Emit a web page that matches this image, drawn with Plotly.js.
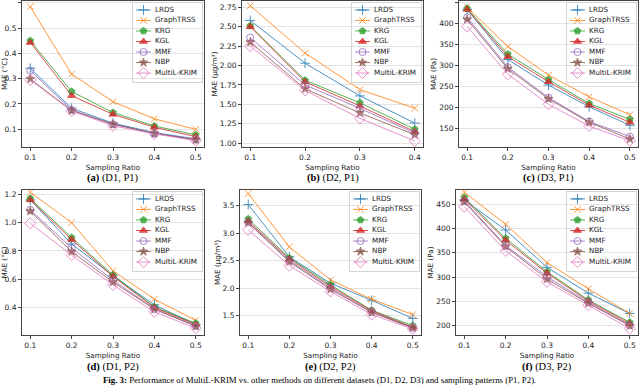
<!DOCTYPE html>
<html>
<head>
<meta charset="utf-8">
<script src="https://cdn.plot.ly/plotly-3.0.1.min.js"></script>
<style>
  html, body { margin: 0; padding: 0; background: #fff; }
  #chart { width: 640px; height: 386px; }
</style>
</head>
<body>
<div id="chart"></div>
<script>
const ratios = [0.1, 0.2, 0.3, 0.4, 0.5];
const ratiosB = [0.1, 0.2, 0.3, 0.4];
const methods = ['LRDS', 'GraphTRSS', 'KRG', 'KGL', 'MMF', 'NBP', 'MultiL-KRIM'];

// one row per method, same order as methods
const maeD1P1 = [
    [0.341, 0.183, 0.124, 0.087, 0.062],
    [0.584, 0.318, 0.209, 0.141, 0.100],
    [0.450, 0.249, 0.166, 0.113, 0.078],
    [0.443, 0.233, 0.159, 0.108, 0.071],
    [0.332, 0.176, 0.120, 0.084, 0.060],
    [0.299, 0.174, 0.120, 0.084, 0.058],
    [0.295, 0.172, 0.114, 0.082, 0.055]
];
const maeD2P1 = [
    [2.58, 2.03, 1.61, 1.26],
    [2.77, 2.16, 1.69, 1.45],
    [2.51, 1.81, 1.52, 1.18],
    [2.50, 1.79, 1.48, 1.15],
    [2.36, 1.75, 1.45, 1.13],
    [2.30, 1.70, 1.39, 1.11],
    [2.25, 1.68, 1.32, 1.03]
];
const maeD3P1 = [
    [434, 314, 253, 201, 157],
    [439, 345, 277, 225, 182],
    [436, 327, 266, 209, 171],
    [434, 321, 261, 205, 164],
    [415, 296, 223, 166, 130],
    [410, 292, 220, 164, 124],
    [393, 279, 207, 155, 120]
];
const maeD1P2 = [
    [1.16, 0.85, 0.625, 0.42, 0.28],
    [1.214, 1.00, 0.66, 0.46, 0.31],
    [1.17, 0.894, 0.63, 0.405, 0.29],
    [1.16, 0.88, 0.62, 0.40, 0.28],
    [1.09, 0.82, 0.595, 0.39, 0.27],
    [1.08, 0.795, 0.58, 0.39, 0.27],
    [0.995, 0.77, 0.56, 0.37, 0.255]
];
const maeD2P2 = [
    [3.52, 2.57, 2.09, 1.78, 1.45],
    [3.72, 2.75, 2.15, 1.80, 1.52],
    [3.26, 2.55, 2.06, 1.60, 1.32],
    [3.22, 2.53, 2.03, 1.59, 1.29],
    [3.20, 2.50, 2.00, 1.57, 1.28],
    [3.19, 2.48, 1.98, 1.56, 1.28],
    [3.06, 2.41, 1.94, 1.52, 1.26]
];
const maeD3P2 = [
    [459, 397, 320, 267, 225],
    [475, 409, 330, 276, 225],
    [464, 380, 311, 253, 207],
    [461, 376, 308, 251, 204],
    [457, 365, 301, 248, 201],
    [455, 363, 296, 246, 200],
    [445, 354, 290, 242, 194]
];

const colors = ['#1f77b4', '#ff7f0e', '#2ca02c', '#d62728', '#9467bd', '#8c564b', '#e377c2'];
const symbols = ['cross-thin', 'x-thin', 'pentagon', 'triangle-up', 'circle-open', 'star', 'diamond-open'];
const sizes = [7, 6.5, 7, 7, 7, 6.5, 8.5];

const W = 640, H = 386;
const px = v => v / W;
const py = v => 1 - v / H;

// plot boxes in pixels: [left, right, top, bottom]
const panels = [
    { data: maeD1P1, x: ratios, ytitle: 'MAE (°C)', yrange: [0.030, 0.607], dtick: 0.1, fmt: '.1f', box: [22, 204, 1, 147], tag: '(a)', cap: '(D1, P1)' },
    { data: maeD2P1, x: ratiosB, ytitle: 'MAE (μg/m³)', yrange: [0.952, 2.83], dtick: 0.25, fmt: '.2f', box: [242, 423, 1, 147], tag: '(b)', cap: '(D2, P1)' },
    { data: maeD3P1, x: ratios, ytitle: 'MAE (Pa)', yrange: [105, 454], dtick: 50, fmt: 'd', box: [459, 638, 1, 147], tag: '(c)', cap: '(D3, P1)' },
    { data: maeD1P2, x: ratios, ytitle: 'MAE (°C)', yrange: [0.207, 1.23], dtick: 0.2, fmt: '.1f', box: [22, 204, 190, 335], tag: '(d)', cap: '(D1, P2)' },
    { data: maeD2P2, x: ratios, ytitle: 'MAE (μg/m³)', yrange: [1.149, 3.785], dtick: 0.5, fmt: '.1f', box: [240, 421, 190, 335], tag: '(e)', cap: '(D2, P2)' },
    { data: maeD3P2, x: ratios, ytitle: 'MAE (Pa)', yrange: [180.8, 479.4], dtick: 50, fmt: 'd', box: [456, 638, 190, 335], tag: '(f)', cap: '(D3, P2)' }
];

const tickFont = { family: 'DejaVu Sans', size: 7.5, color: '#222' };
const labelFont = { family: 'DejaVu Sans', size: 7.2, color: '#222' };
const legW = 69, legH = 79;

const traces = [];
const layout = {
    width: W, height: H,
    margin: { l: 0, r: 0, t: 0, b: 0 },
    paper_bgcolor: '#fff', plot_bgcolor: 'rgba(0,0,0,0)',
    showlegend: false, hovermode: false,
    annotations: []
};

panels.forEach((p, k) => {
    const n = k + 1, m = k + 7;
    const [l, r, t, b] = p.box;
    const xa = n === 1 ? 'x' : 'x' + n, ya = n === 1 ? 'y' : 'y' + n;

    p.data.forEach((vals, i) => {
        traces.push({
            x: p.x, y: vals, xaxis: xa, yaxis: ya,
            type: 'scatter', mode: 'lines+markers', name: methods[i],
            opacity: 0.8,
            line: { color: colors[i], width: 1 },
            marker: { symbol: symbols[i], size: sizes[i], color: colors[i], line: { color: colors[i], width: 1 } }
        });
    });

    layout['xaxis' + n] = {
        domain: [px(l), px(r)], anchor: ya,
        range: p.x.length === 4 ? [0.085, 0.415] : [0.08, 0.52],
        tickvals: p.x, tickformat: '.1f', tickfont: tickFont,
        ticks: 'outside', ticklen: 3, tickcolor: '#444',
        showline: true, mirror: true, linecolor: '#444', linewidth: 1,
        showgrid: false, zeroline: false,
        title: { text: 'Sampling Ratio', font: labelFont, standoff: 3 }
    };
    layout['yaxis' + n] = {
        domain: [py(b), py(t)], anchor: xa,
        range: p.yrange, dtick: p.dtick, tickformat: p.fmt, tickfont: tickFont,
        ticks: 'outside', ticklen: 3, tickcolor: '#444',
        showline: true, mirror: true, linecolor: '#444', linewidth: 1,
        showgrid: true, gridcolor: '#e3e3e3', gridwidth: 1, zeroline: false,
        title: { text: p.ytitle, font: labelFont, standoff: 1 }
    };

    // legend box drawn on its own small axes in the upper right corner
    const lr = r - 2, ll = lr - legW, lt = t + 2, lb = lt + legH;
    layout['xaxis' + m] = {
        domain: [px(ll), px(lr)], anchor: 'y' + m, range: [0, legW],
        showline: true, mirror: true, linecolor: '#d4d4d4', linewidth: 1,
        showgrid: false, zeroline: false, showticklabels: false, ticks: ''
    };
    layout['yaxis' + m] = {
        domain: [py(lb), py(lt)], anchor: 'x' + m, range: [6.85, -0.66],
        showline: true, mirror: true, linecolor: '#d4d4d4', linewidth: 1,
        showgrid: false, zeroline: false, showticklabels: false, ticks: ''
    };
    methods.forEach((name, i) => {
        traces.push({
            x: [3, 18], y: [i, i], xaxis: 'x' + m, yaxis: 'y' + m,
            type: 'scatter', mode: 'lines', opacity: 0.8, cliponaxis: false,
            line: { color: colors[i], width: 1 }
        });
        traces.push({
            x: [10.5], y: [i], xaxis: 'x' + m, yaxis: 'y' + m,
            type: 'scatter', mode: 'markers', opacity: 0.8, cliponaxis: false,
            marker: { symbol: symbols[i], size: sizes[i], color: colors[i], line: { color: colors[i], width: 1 } }
        });
        traces.push({
            x: [22], y: [i], xaxis: 'x' + m, yaxis: 'y' + m,
            type: 'scatter', mode: 'text', text: [name], textposition: 'middle right', cliponaxis: false,
            textfont: labelFont
        });
    });

    layout.annotations.push({
        xref: 'paper', yref: 'paper', x: px((l + r) / 2), y: py(t < 100 ? 178 : 367),
        xanchor: 'center', yanchor: 'middle', showarrow: false,
        text: '<b>' + p.tag + '</b> ' + p.cap,
        font: { family: 'Liberation Serif', size: 10.5, color: '#000' }
    });
});

layout.annotations.push({
    xref: 'paper', yref: 'paper', x: px(319), y: py(380),
    xanchor: 'center', yanchor: 'middle', showarrow: false,
    text: '<b>Fig. 3:</b> Performance of MultiL-KRIM vs. other methods on different datasets (D1, D2, D3) and sampling patterns (P1, P2).',
    font: { family: 'Liberation Serif', size: 8.8, color: '#000' }
});

Plotly.newPlot('chart', traces, layout, { displayModeBar: false, staticPlot: true });
</script>
</body>
</html>
